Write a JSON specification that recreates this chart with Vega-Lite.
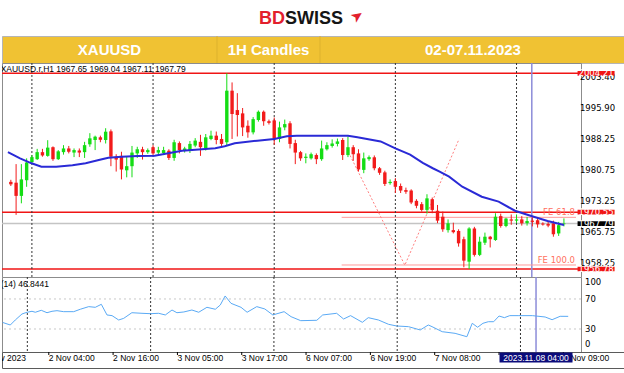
{
 "$schema": "https://vega.github.io/schema/vega-lite/v6.json",
 "padding": 0,
 "spacing": 0,
 "bounds": "flush",
 "background": "#ffffff",
 "config": {"view": {"stroke": null}, "font": "DejaVu Sans"},
 "datasets": {
  "candles": [
   {"i":0,"o":1977.9,"h":1978.4,"l":1976.9,"c":1977.3},
   {"i":1,"o":1977.7,"h":1982.2,"l":1969.9,"c":1974.5},
   {"i":2,"o":1974.5,"h":1982.2,"l":1972.7,"c":1978.5},
   {"i":3,"o":1978.3,"h":1983.6,"l":1976.7,"c":1982.6},
   {"i":4,"o":1982.7,"h":1984.4,"l":1982.2,"c":1983.9},
   {"i":5,"o":1983.4,"h":1985.9,"l":1983.2,"c":1985.1},
   {"i":6,"o":1985.1,"h":1985.9,"l":1984.0,"c":1984.3},
   {"i":7,"o":1984.2,"h":1988.0,"l":1984.0,"c":1986.2},
   {"i":8,"o":1986.3,"h":1986.5,"l":1983.0,"c":1983.4},
   {"i":9,"o":1983.4,"h":1985.6,"l":1983.2,"c":1985.3},
   {"i":10,"o":1985.1,"h":1986.8,"l":1984.5,"c":1986.0},
   {"i":11,"o":1986.0,"h":1986.6,"l":1984.8,"c":1985.2},
   {"i":12,"o":1985.0,"h":1986.0,"l":1983.9,"c":1985.6},
   {"i":13,"o":1985.5,"h":1986.0,"l":1983.9,"c":1985.0},
   {"i":14,"o":1985.1,"h":1987.6,"l":1983.7,"c":1986.8},
   {"i":15,"o":1987.0,"h":1989.7,"l":1986.4,"c":1988.45},
   {"i":16,"o":1988.05,"h":1989.1,"l":1985.6,"c":1988.85},
   {"i":17,"o":1988.7,"h":1989.1,"l":1987.5,"c":1988.1},
   {"i":18,"o":1988.05,"h":1990.9,"l":1987.2,"c":1990.06},
   {"i":19,"o":1990.15,"h":1990.6,"l":1981.7,"c":1984.0},
   {"i":20,"o":1984.0,"h":1984.6,"l":1980.4,"c":1983.3},
   {"i":21,"o":1984.2,"h":1985.2,"l":1978.5,"c":1980.9},
   {"i":22,"o":1980.7,"h":1984.0,"l":1979.0,"c":1981.7},
   {"i":23,"o":1981.7,"h":1986.6,"l":1979.0,"c":1985.0},
   {"i":24,"o":1984.8,"h":1986.4,"l":1983.7,"c":1985.8},
   {"i":25,"o":1985.8,"h":1986.4,"l":1983.3,"c":1985.1},
   {"i":26,"o":1985.1,"h":1986.0,"l":1984.7,"c":1985.6},
   {"i":27,"o":1986.3,"h":1986.8,"l":1984.2,"c":1984.8},
   {"i":28,"o":1985.0,"h":1986.4,"l":1984.5,"c":1985.6},
   {"i":29,"o":1984.9,"h":1986.4,"l":1984.4,"c":1985.6},
   {"i":30,"o":1985.45,"h":1985.8,"l":1983.2,"c":1983.7},
   {"i":31,"o":1983.7,"h":1988.1,"l":1983.0,"c":1987.5},
   {"i":32,"o":1987.3,"h":1987.7,"l":1984.8,"c":1985.6},
   {"i":33,"o":1985.6,"h":1986.4,"l":1985.0,"c":1986.0},
   {"i":34,"o":1985.6,"h":1987.8,"l":1984.9,"c":1987.1},
   {"i":35,"o":1986.7,"h":1988.5,"l":1986.3,"c":1987.9},
   {"i":36,"o":1987.6,"h":1989.3,"l":1984.2,"c":1986.3},
   {"i":37,"o":1986.1,"h":1989.5,"l":1985.5,"c":1988.7},
   {"i":38,"o":1988.3,"h":1990.3,"l":1988.0,"c":1989.1},
   {"i":39,"o":1989.1,"h":1990.1,"l":1987.0,"c":1988.05},
   {"i":40,"o":1988.3,"h":1989.5,"l":1986.6,"c":1987.1},
   {"i":41,"o":1987.5,"h":2004.21,"l":1986.7,"c":2000.0},
   {"i":42,"o":2000.0,"h":2002.0,"l":1988.3,"c":1994.35},
   {"i":43,"o":1995.3,"h":1999.4,"l":1988.9,"c":1994.1},
   {"i":44,"o":1994.5,"h":1995.8,"l":1989.0,"c":1991.1},
   {"i":45,"o":1991.5,"h":1992.8,"l":1988.6,"c":1989.9},
   {"i":46,"o":1989.9,"h":1993.6,"l":1989.4,"c":1993.1},
   {"i":47,"o":1992.9,"h":1995.2,"l":1992.5,"c":1994.9},
   {"i":48,"o":1994.9,"h":1995.2,"l":1991.5,"c":1992.6},
   {"i":49,"o":1992.6,"h":1993.0,"l":1991.8,"c":1992.2},
   {"i":50,"o":1992.8,"h":1993.5,"l":1986.9,"c":1988.2},
   {"i":51,"o":1988.3,"h":1992.5,"l":1987.5,"c":1991.1},
   {"i":52,"o":1991.1,"h":1993.0,"l":1990.4,"c":1991.9},
   {"i":53,"o":1992.1,"h":1992.6,"l":1986.0,"c":1987.1},
   {"i":54,"o":1987.3,"h":1988.1,"l":1982.2,"c":1985.0},
   {"i":55,"o":1985.1,"h":1985.4,"l":1983.0,"c":1983.6},
   {"i":56,"o":1983.7,"h":1984.8,"l":1982.4,"c":1984.0},
   {"i":57,"o":1983.6,"h":1985.0,"l":1983.3,"c":1984.6},
   {"i":58,"o":1984.4,"h":1984.8,"l":1982.2,"c":1983.4},
   {"i":59,"o":1983.4,"h":1987.9,"l":1983.0,"c":1986.0},
   {"i":60,"o":1985.8,"h":1987.5,"l":1985.5,"c":1986.8},
   {"i":61,"o":1986.6,"h":1988.2,"l":1986.2,"c":1987.2},
   {"i":62,"o":1987.1,"h":1988.4,"l":1986.5,"c":1987.7},
   {"i":63,"o":1988.05,"h":1988.5,"l":1983.2,"c":1984.4},
   {"i":64,"o":1984.4,"h":1988.9,"l":1983.9,"c":1986.3},
   {"i":65,"o":1986.3,"h":1986.8,"l":1983.0,"c":1984.6},
   {"i":66,"o":1984.8,"h":1985.8,"l":1980.4,"c":1980.9},
   {"i":67,"o":1980.8,"h":1985.0,"l":1980.0,"c":1983.6},
   {"i":68,"o":1983.4,"h":1984.3,"l":1983.0,"c":1983.9},
   {"i":69,"o":1983.85,"h":1984.3,"l":1980.7,"c":1981.2},
   {"i":70,"o":1981.2,"h":1981.5,"l":1979.6,"c":1980.1},
   {"i":71,"o":1980.2,"h":1980.6,"l":1976.9,"c":1977.4},
   {"i":72,"o":1977.6,"h":1978.5,"l":1977.2,"c":1977.9},
   {"i":73,"o":1978.1,"h":1978.8,"l":1975.2,"c":1976.7},
   {"i":74,"o":1976.9,"h":1977.5,"l":1975.2,"c":1975.8},
   {"i":75,"o":1975.9,"h":1976.5,"l":1975.0,"c":1975.5},
   {"i":76,"o":1975.8,"h":1976.1,"l":1972.5,"c":1972.9},
   {"i":77,"o":1973.3,"h":1973.7,"l":1971.5,"c":1972.1},
   {"i":78,"o":1972.5,"h":1973.0,"l":1970.7,"c":1971.1},
   {"i":79,"o":1971.1,"h":1974.9,"l":1970.2,"c":1973.9},
   {"i":80,"o":1973.7,"h":1974.1,"l":1970.3,"c":1971.1},
   {"i":81,"o":1970.9,"h":1972.3,"l":1967.9,"c":1968.5},
   {"i":82,"o":1969.45,"h":1970.7,"l":1965.8,"c":1966.4},
   {"i":83,"o":1966.2,"h":1968.8,"l":1965.6,"c":1967.85},
   {"i":84,"o":1966.2,"h":1968.0,"l":1965.4,"c":1965.7},
   {"i":85,"o":1966.0,"h":1966.4,"l":1962.2,"c":1963.0},
   {"i":86,"o":1964.0,"h":1964.6,"l":1957.2,"c":1958.8},
   {"i":87,"o":1958.55,"h":1966.9,"l":1956.78,"c":1966.6},
   {"i":88,"o":1966.6,"h":1967.0,"l":1959.8,"c":1960.2},
   {"i":89,"o":1960.2,"h":1964.6,"l":1959.9,"c":1963.4},
   {"i":90,"o":1963.15,"h":1965.6,"l":1962.6,"c":1964.6},
   {"i":91,"o":1964.6,"h":1964.8,"l":1962.0,"c":1964.0},
   {"i":92,"o":1963.8,"h":1970.3,"l":1963.6,"c":1969.45},
   {"i":93,"o":1969.6,"h":1970.2,"l":1966.8,"c":1967.2},
   {"i":94,"o":1967.2,"h":1969.2,"l":1966.9,"c":1969.0},
   {"i":95,"o":1968.8,"h":1970.0,"l":1967.5,"c":1968.5},
   {"i":96,"o":1968.5,"h":1970.0,"l":1967.9,"c":1968.8},
   {"i":97,"o":1968.8,"h":1969.6,"l":1967.3,"c":1967.85},
   {"i":98,"o":1967.9,"h":1969.4,"l":1967.3,"c":1968.4},
   {"i":99,"o":1968.5,"h":1969.3,"l":1967.1,"c":1968.2},
   {"i":100,"o":1968.6,"h":1969.3,"l":1966.8,"c":1967.6},
   {"i":101,"o":1967.8,"h":1968.1,"l":1967.3,"c":1967.55},
   {"i":102,"o":1967.7,"h":1968.2,"l":1966.9,"c":1967.3},
   {"i":103,"o":1967.85,"h":1968.5,"l":1964.6,"c":1965.2},
   {"i":104,"o":1965.4,"h":1968.2,"l":1964.8,"c":1967.4},
   {"i":105,"o":1967.65,"h":1969.04,"l":1967.11,"c":1967.79}
  ],
  "ma": [
   {"i":-0.55,"p":1985.1},{"i":1.75,"p":1983.61},{"i":3.94,"p":1982.4},{"i":5.8,"p":1981.57},
   {"i":8.6,"p":1981.57},{"i":11.7,"p":1981.91},{"i":14.2,"p":1982.4},{"i":16.7,"p":1983.2},
   {"i":18.5,"p":1983.76},{"i":21,"p":1984.0},{"i":24.1,"p":1984.17},{"i":27.3,"p":1984.24},
   {"i":32.5,"p":1985.45},{"i":38.8,"p":1986.03},{"i":40.6,"p":1986.52},{"i":42.5,"p":1987.24},
   {"i":46.8,"p":1987.88},{"i":50,"p":1988.29},{"i":52.4,"p":1988.95},{"i":54.3,"p":1989.05},
   {"i":60,"p":1989.1},{"i":64,"p":1989.05},{"i":65.8,"p":1988.7},{"i":70.2,"p":1987.7},
   {"i":73,"p":1986.0},{"i":75.8,"p":1984.5},{"i":78.2,"p":1982.5},{"i":80.1,"p":1981.2},
   {"i":81.4,"p":1980.4},{"i":83.2,"p":1979.15},{"i":85.7,"p":1976.73},{"i":89.4,"p":1974.3},
   {"i":92.6,"p":1973.1},{"i":95.7,"p":1970.9},{"i":98.8,"p":1969.62},{"i":101.9,"p":1968.41},
   {"i":105,"p":1967.44}
  ],
  "rsi": [
   {"i":-0.6,"v":38.7},{"i":0.82,"v":35.3},{"i":1.75,"v":42},{"i":3.0,"v":50},{"i":3.94,"v":52.3},
   {"i":4.87,"v":53.6},{"i":5.49,"v":52.3},{"i":6.6,"v":54.9},{"i":7.67,"v":51.7},{"i":8.6,"v":53.6},
   {"i":9.53,"v":54.4},{"i":10.78,"v":53.1},{"i":12.65,"v":53.1},{"i":13.88,"v":56.3},{"i":15.45,"v":59.8},
   {"i":16.68,"v":58.9},{"i":17.8,"v":62.9},{"i":18.86,"v":48.7},{"i":19.8,"v":47.8},{"i":21.04,"v":42},
   {"i":21.98,"v":44.2},{"i":23.5,"v":51.7},{"i":25.39,"v":50.9},{"i":26.94,"v":50.4},{"i":28.5,"v":50.9},
   {"i":29.74,"v":48.7},{"i":30.99,"v":55.3},{"i":31.9,"v":51.7},{"i":33.2,"v":52.7},{"i":34.7,"v":55.3},
   {"i":35.97,"v":52.3},{"i":37.5,"v":58.9},{"i":39.07,"v":56.3},{"i":40,"v":62},{"i":40.9,"v":74},
   {"i":42,"v":64.2},{"i":43.86,"v":58.9},{"i":45,"v":52.3},{"i":46.8,"v":59.8},{"i":48.3,"v":56.7},
   {"i":49.8,"v":48.7},{"i":51.9,"v":53.1},{"i":53.2,"v":46.4},{"i":55,"v":41.1},{"i":58,"v":41.6},
   {"i":59.1,"v":48.7},{"i":61.7,"v":50.9},{"i":63,"v":43.3},{"i":64.3,"v":47.8},{"i":66.5,"v":38.9},
   {"i":67.6,"v":45.1},{"i":69.5,"v":42},{"i":71.4,"v":36.2},{"i":72.9,"v":34},{"i":75.1,"v":33.1},
   {"i":77.3,"v":28.7},{"i":78.8,"v":35.3},{"i":79.5,"v":33.1},{"i":81.4,"v":26.4},{"i":83.8,"v":24.2},
   {"i":86,"v":19.7},{"i":87,"v":37.6},{"i":88,"v":32.3},{"i":89,"v":37.6},{"i":90,"v":39.7},
   {"i":91,"v":39.7},{"i":92,"v":47.3},{"i":93,"v":45.1},{"i":94,"v":47.8},{"i":95.7,"v":47.8},
   {"i":98.2,"v":47.8},{"i":100.6,"v":46},{"i":101.9,"v":42.4},{"i":103.4,"v":46.9},{"i":104.9,"v":46.84}
  ],
  "days": [{"i":4},{"i":27},{"i":50},{"i":73},{"i":96}],
  "cursor": [{"i":98.9,"t":"2023.11.08 04:00"}],
  "levels": [
   {"p":2004.21,"k":"line","t":"2004.21"},
   {"p":1970.55,"k":"line","t":"1970.55"},
   {"p":1967.79,"k":"bid","t":"1967.79"},
   {"p":1956.78,"k":"line","t":"1956.78"}
  ],
  "pticks": [
   {"p":2003.40,"t":"2003.40"},{"p":1995.90,"t":"1995.90"},{"p":1988.25,"t":"1988.25"},
   {"p":1980.75,"t":"1980.75"},{"p":1973.25,"t":"1973.25"},{"p":1965.75,"t":"1965.75"},
   {"p":1958.25,"t":"1958.25"}
  ],
  "rticks": [{"v":30,"t":"30"},{"v":70,"t":"70"}],
  "fe": [
   {"lbl":"FE 61.8","p":1969.3,"i":62.8,"i2":107.29},
   {"lbl":"FE 100.0","p":1957.75,"i":62.8,"i2":107.29}
  ],
  "fepath": [
   {"s":1,"i":64.4,"p":1984.3},
   {"s":2,"i":74.8,"p":1957.7},
   {"s":3,"i":85.1,"p":1988.3}
  ],
  "timelabels": [
   {"i":8,"t":"2 Nov 04:00"},{"i":20,"t":"2 Nov 16:00"},{"i":32,"t":"3 Nov 05:00"},
   {"i":44,"t":"3 Nov 17:00"},{"i":56,"t":"6 Nov 07:00"},{"i":68,"t":"6 Nov 19:00"},
   {"i":80,"t":"7 Nov 08:00"},{"i":104,"t":"8 Nov 09:00"}
  ],
  "tticks": [{"i":8},{"i":20},{"i":32},{"i":44},{"i":56},{"i":68},{"i":80},{"i":92},{"i":104}],
  "cells": [{"n":1,"t":"XAUUSD"},{"n":2,"t":"1H Candles"},{"n":3,"t":"02-07.11.2023"}],
  "cellsep": [{"n":1.5},{"n":2.5}]
 },
 "vconcat": [
  {
   "width": 624,
   "height": 36,
   "layer": [
    {"data": {"values": [{"t": "BD"}]},
     "mark": {"type": "text", "align": "right", "baseline": "middle", "dx": -29, "dy": 1, "font": "Liberation Sans", "fontWeight": "bold", "fontSize": 18, "color": "#E2202C"},
     "encoding": {"text": {"field": "t"}}},
    {"data": {"values": [{"t": "SWISS"}]},
     "mark": {"type": "text", "align": "left", "baseline": "middle", "dx": -29, "dy": 1, "font": "Liberation Sans", "fontWeight": "bold", "fontSize": 18, "color": "#151515"},
     "encoding": {"text": {"field": "t"}}},
    {"data": {"values": [{"t": "➤"}]},
     "mark": {"type": "text", "align": "center", "baseline": "middle", "angle": -35, "dx": 36.4, "dy": 23, "font": "DejaVu Sans", "fontSize": 15, "color": "#E2202C"},
     "encoding": {"text": {"field": "t"}}}
   ]
  },
  {
   "width": 624,
   "height": 27,
   "view": {"fill": "#F0C233", "stroke": "#b5b5b5"},
   "layer": [
    {"data": {"name": "cellsep"},
     "mark": {"type": "rule", "color": "#DDB22E", "strokeWidth": 1},
     "encoding": {
      "x": {"field": "n", "type": "quantitative",
            "scale": {"domain": [0.5, 1, 1.5, 2, 2.5, 3, 3.5], "range": [0, 107.5, 215, 266.5, 318, 471, 624]}, "axis": null}}},
    {"data": {"name": "cells"},
     "mark": {"type": "text", "baseline": "middle", "align": "center", "font": "Liberation Sans", "fontWeight": "bold", "fontSize": 15, "color": "#ffffff"},
     "encoding": {
      "x": {"field": "n", "type": "quantitative", "axis": null},
      "text": {"field": "t"}}}
   ]
  },
  {
   "width": 579,
   "height": 214,
   "view": {"stroke": "#8c8c8c"},
   "layer": [
    {"data": {"name": "levels"},
     "mark": {"type": "rule", "strokeWidth": 1.5},
     "encoding": {
      "y": {"field": "p", "type": "quantitative", "scale": {"domain": [1954.84, 2006.71], "nice": false, "zero": false}, "axis": null},
      "color": {"condition": {"test": "datum.k == 'bid'", "value": "#c4c4c4"}, "value": "#f01515"}
     }},
    {"data": {"name": "days"},
     "mark": {"type": "rule", "strokeDash": [2, 2], "color": "#333333", "strokeWidth": 1},
     "encoding": {"x": {"field": "i", "type": "quantitative", "scale": {"domain": [-0.728, 107.29], "nice": false, "zero": false}, "axis": null}}},
    {"data": {"name": "cursor"},
     "mark": {"type": "rule", "color": "#8c8cd9", "strokeWidth": 1.5},
     "encoding": {"x": {"field": "i", "type": "quantitative", "axis": null}}},
    {"data": {"name": "fe"},
     "mark": {"type": "rule", "color": "#ff9a9a", "strokeWidth": 1},
     "encoding": {
      "x": {"field": "i", "type": "quantitative", "axis": null},
      "x2": {"field": "i2"},
      "y": {"field": "p", "type": "quantitative", "axis": null}}},
    {"data": {"name": "fepath"},
     "mark": {"type": "line", "color": "#ff8080", "strokeWidth": 1, "strokeDash": [2, 2]},
     "encoding": {
      "x": {"field": "i", "type": "quantitative", "axis": null},
      "y": {"field": "p", "type": "quantitative", "axis": null},
      "order": {"field": "s"}}},
    {"data": {"name": "candles"},
     "mark": {"type": "rule", "strokeWidth": 1},
     "encoding": {
      "x": {"field": "i", "type": "quantitative", "axis": null},
      "y": {"field": "l", "type": "quantitative", "axis": null},
      "y2": {"field": "h"},
      "color": {"condition": {"test": "datum.c >= datum.o", "value": "#14dd14"}, "value": "#f21b1b"}}},
    {"data": {"name": "candles"},
     "mark": {"type": "bar", "width": 3.4},
     "encoding": {
      "x": {"field": "i", "type": "quantitative", "axis": null},
      "y": {"field": "o", "type": "quantitative", "axis": null},
      "y2": {"field": "c"},
      "color": {"condition": {"test": "datum.c >= datum.o", "value": "#14dd14"}, "value": "#f21b1b"}}},
    {"data": {"name": "ma"},
     "mark": {"type": "line", "color": "#2a2ad6", "strokeWidth": 2},
     "encoding": {
      "x": {"field": "i", "type": "quantitative", "axis": null},
      "y": {"field": "p", "type": "quantitative", "axis": null}}},
    {"data": {"name": "fe"},
     "mark": {"type": "text", "align": "right", "baseline": "bottom", "dx": -1, "font": "DejaVu Sans", "fontSize": 8.5, "color": "#ff7060"},
     "encoding": {
      "x": {"field": "i2", "type": "quantitative", "axis": null},
      "y": {"field": "p", "type": "quantitative", "axis": null},
      "text": {"field": "lbl"}}},
    {"data": {"name": "pticks"},
     "mark": {"type": "text", "align": "left", "baseline": "middle", "font": "DejaVu Sans", "fontSize": 8.5, "color": "#000000"},
     "encoding": {
      "x": {"datum": 108.04, "type": "quantitative", "axis": null},
      "y": {"field": "p", "type": "quantitative", "axis": null},
      "text": {"field": "t"}}},
    {"data": {"name": "levels"},
     "mark": {"type": "point", "shape": "M-1,-0.128H1V0.128H-1Z", "size": 1369, "filled": true, "opacity": 1, "strokeWidth": 0},
     "encoding": {
      "x": {"datum": 111.1, "type": "quantitative", "axis": null},
      "y": {"field": "p", "type": "quantitative", "axis": null},
      "color": {"condition": {"test": "datum.k == 'bid'", "value": "#000000"}, "value": "#f01515"}}},
    {"data": {"name": "levels"},
     "mark": {"type": "text", "baseline": "middle", "align": "center", "font": "DejaVu Sans", "fontSize": 8.5, "color": "#ffffff"},
     "encoding": {
      "x": {"datum": 111.1, "type": "quantitative", "axis": null},
      "y": {"field": "p", "type": "quantitative", "axis": null},
      "text": {"field": "t"}}},
    {"data": {"values": [{"i": 33.2, "p": 2005.37, "t": "XAUUSD.r,H1  1967.65 1969.04 1967.11 1967.79"}]},
     "mark": {"type": "text", "align": "right", "baseline": "middle", "clip": true, "font": "Liberation Sans", "fontSize": 8.5, "color": "#000000"},
     "encoding": {
      "x": {"field": "i", "type": "quantitative", "axis": null},
      "y": {"field": "p", "type": "quantitative", "axis": null},
      "text": {"field": "t"}}}
   ]
  },
  {
   "width": 579,
   "height": 75,
   "view": {"stroke": "#8c8c8c"},
   "layer": [
    {"data": {"name": "rticks"},
     "mark": {"type": "rule", "strokeDash": [2, 3], "color": "#c8c8c8", "strokeWidth": 1},
     "encoding": {
      "y": {"field": "v", "type": "quantitative", "scale": {"domain": [-0.67, 99.3], "nice": false, "zero": false}, "axis": null}}},
    {"data": {"name": "days"},
     "mark": {"type": "rule", "strokeDash": [2, 2], "color": "#333333", "strokeWidth": 1},
     "encoding": {"x": {"field": "i", "type": "quantitative", "scale": {"domain": [-0.728, 107.29], "nice": false, "zero": false}, "axis": null}}},
    {"data": {"name": "cursor"},
     "mark": {"type": "rule", "color": "#8c8cd9", "strokeWidth": 1.5},
     "encoding": {"x": {"field": "i", "type": "quantitative", "axis": null}}},
    {"data": {"name": "rsi"},
     "mark": {"type": "line", "color": "#5aaaf5", "strokeWidth": 1},
     "encoding": {
      "x": {"field": "i", "type": "quantitative", "axis": null},
      "y": {"field": "v", "type": "quantitative", "axis": null}}},
    {"data": {"name": "rticks"},
     "mark": {"type": "text", "align": "left", "baseline": "middle", "font": "DejaVu Sans", "fontSize": 8.5, "color": "#000000"},
     "encoding": {
      "x": {"datum": 108.04, "type": "quantitative", "axis": null},
      "y": {"field": "v", "type": "quantitative", "axis": null},
      "text": {"field": "t"}}},
    {"data": {"values": [{"v": 100, "t": "100"}]},
     "mark": {"type": "text", "align": "left", "baseline": "top", "dy": 2, "font": "DejaVu Sans", "fontSize": 8.5, "color": "#000000"},
     "encoding": {
      "x": {"datum": 108.04, "type": "quantitative", "axis": null},
      "y": {"field": "v", "type": "quantitative", "axis": null},
      "text": {"field": "t"}}},
    {"data": {"values": [{"v": 0, "t": "0"}]},
     "mark": {"type": "text", "align": "left", "baseline": "bottom", "dy": -2, "font": "DejaVu Sans", "fontSize": 8.5, "color": "#000000"},
     "encoding": {
      "x": {"datum": 108.04, "type": "quantitative", "axis": null},
      "y": {"field": "v", "type": "quantitative", "axis": null},
      "text": {"field": "t"}}},
    {"data": {"values": [{"i": 8.04, "v": 90, "t": "RSI(14) 46.8441"}]},
     "mark": {"type": "text", "align": "right", "baseline": "middle", "clip": true, "font": "Liberation Sans", "fontSize": 8.5, "color": "#000000"},
     "encoding": {
      "x": {"field": "i", "type": "quantitative", "axis": null},
      "y": {"field": "v", "type": "quantitative", "axis": null},
      "text": {"field": "t"}}}
   ]
  },
  {
   "width": 624,
   "height": 16,
   "view": {"stroke": "#5a5a5a"},
   "layer": [
    {"data": {"name": "tticks"},
     "mark": {"type": "rule", "color": "#000000", "strokeWidth": 1},
     "encoding": {
      "x": {"field": "i", "type": "quantitative", "scale": {"domain": [-0.728, 115.69], "nice": false, "zero": false}, "axis": null},
      "y": {"value": 0},
      "y2": {"value": 3}}},
    {"data": {"name": "timelabels"},
     "mark": {"type": "text", "align": "left", "baseline": "middle", "dy": -2.5, "clip": true, "font": "Liberation Sans", "fontSize": 8.5, "color": "#000000"},
     "encoding": {
      "x": {"field": "i", "type": "quantitative", "axis": null},
      "text": {"field": "t"}}},
    {"data": {"values": [{"i": 3.75, "t": "1 Nov 2023"}]},
     "mark": {"type": "text", "align": "right", "baseline": "middle", "dy": -2.5, "clip": true, "font": "Liberation Sans", "fontSize": 8.5, "color": "#000000"},
     "encoding": {
      "x": {"field": "i", "type": "quantitative", "axis": null},
      "text": {"field": "t"}}},
    {"data": {"name": "cursor"},
     "mark": {"type": "point", "shape": "M-1,-0.137H1V0.137H-1Z", "size": 5329, "filled": true, "opacity": 1, "strokeWidth": 0, "color": "#0b0b7a", "yOffset": -2.5},
     "encoding": {"x": {"field": "i", "type": "quantitative", "axis": null}}},
    {"data": {"name": "cursor"},
     "mark": {"type": "text", "align": "center", "baseline": "middle", "dy": -2.5, "font": "Liberation Sans", "fontSize": 8.5, "color": "#ffffff"},
     "encoding": {
      "x": {"field": "i", "type": "quantitative", "axis": null},
      "text": {"field": "t"}}}
   ]
  }
 ]
}
